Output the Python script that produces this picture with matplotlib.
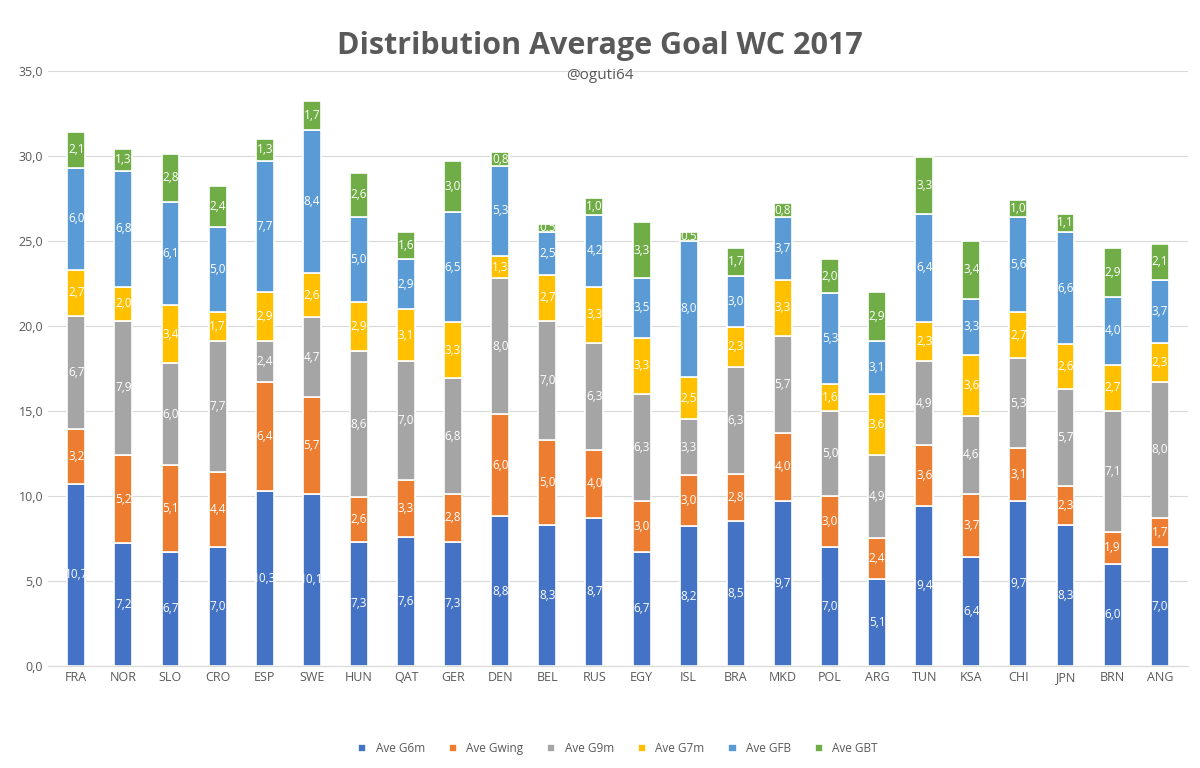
import matplotlib.pyplot as plt
import numpy as np

plt.rcParams['font.family'] = ['Open Sans', 'DejaVu Sans']

# --- data ---
countries = ['FRA', 'NOR', 'SLO', 'CRO', 'ESP', 'SWE', 'HUN', 'QAT', 'GER', 'DEN', 'BEL', 'RUS',
             'EGY', 'ISL', 'BRA', 'MKD', 'POL', 'ARG', 'TUN', 'KSA', 'CHI', 'JPN', 'BRN', 'ANG']
g6m   = [10.7, 7.2, 6.7, 7.0, 10.3, 10.1, 7.3, 7.6, 7.3, 8.8, 8.3, 8.7, 6.7, 8.2, 8.5, 9.7, 7.0, 5.1, 9.4, 6.4, 9.7, 8.3, 6.0, 7.0]
gwing = [3.2, 5.2, 5.1, 4.4, 6.4, 5.7, 2.6, 3.3, 2.8, 6.0, 5.0, 4.0, 3.0, 3.0, 2.8, 4.0, 3.0, 2.4, 3.6, 3.7, 3.1, 2.3, 1.9, 1.7]
g9m   = [6.7, 7.9, 6.0, 7.7, 2.4, 4.7, 8.6, 7.0, 6.8, 8.0, 7.0, 6.3, 6.3, 3.3, 6.3, 5.7, 5.0, 4.9, 4.9, 4.6, 5.3, 5.7, 7.1, 8.0]
g7m   = [2.7, 2.0, 3.4, 1.7, 2.9, 2.6, 2.9, 3.1, 3.3, 1.3, 2.7, 3.3, 3.3, 2.5, 2.3, 3.3, 1.6, 3.6, 2.3, 3.6, 2.7, 2.6, 2.7, 2.3]
gfb   = [6.0, 6.8, 6.1, 5.0, 7.7, 8.4, 5.0, 2.9, 6.5, 5.3, 2.5, 4.2, 3.5, 8.0, 3.0, 3.7, 5.3, 3.1, 6.4, 3.3, 5.6, 6.6, 4.0, 3.7]
gbt   = [2.1, 1.3, 2.8, 2.4, 1.3, 1.7, 2.6, 1.6, 3.0, 0.8, 0.5, 1.0, 3.3, 0.5, 1.7, 0.8, 2.0, 2.9, 3.3, 3.4, 1.0, 1.1, 2.9, 2.1]

series = [('Ave G6m', g6m, '#4472C4'), ('Ave Gwing', gwing, '#ED7D31'),
          ('Ave G9m', g9m, '#A5A5A5'), ('Ave G7m', g7m, '#FFC000'),
          ('Ave GFB', gfb, '#5B9BD5'), ('Ave GBT', gbt, '#70AD47')]

fig = plt.figure(figsize=(12, 7.68), dpi=100)
ax = fig.add_axes([0.04, 0.133, 0.95, 0.775])

x = np.arange(len(countries))
bottom = np.zeros(len(countries))
for name, vals, col in series:
    vals = np.array(vals)
    bars = ax.bar(x, vals, 0.38, bottom=bottom, color=col, edgecolor='white', linewidth=1.2, label=name)
    ax.bar_label(bars, labels=[f'{v:.1f}'.replace('.', ',') for v in vals],
                 label_type='center', color='white', fontsize=8.5)
    bottom += vals

ax.set_xlim(-0.6, len(countries) - 0.4)
ax.set_ylim(0, 35)
ax.set_yticks(np.arange(0, 36, 5))
ax.set_yticklabels([f'{v:.1f}'.replace('.', ',') for v in np.arange(0, 36, 5)])
ax.set_xticks(x)
ax.set_xticklabels(countries)
ax.tick_params(length=0, labelsize=9, colors='#595959')
ax.grid(axis='y', color='#D9D9D9', linewidth=0.8)
ax.set_axisbelow(True)
for s in ['top', 'right', 'left']:
    ax.spines[s].set_visible(False)
ax.spines['bottom'].set_color('#D9D9D9')

fig.text(0.5, 0.94, 'Distribution Average Goal WC 2017', ha='center', va='center',
         fontsize=22, fontweight='bold', color='#595959')
fig.text(0.5, 0.902, '@oguti64', ha='center', va='center', fontsize=11, color='#595959')

ax.legend(loc='upper center', bbox_to_anchor=(0.5, -0.11), ncol=6, frameon=False,
          fontsize=8.5, handlelength=0.7, handleheight=0.7, labelcolor='#595959')

fig.savefig('out.png')
